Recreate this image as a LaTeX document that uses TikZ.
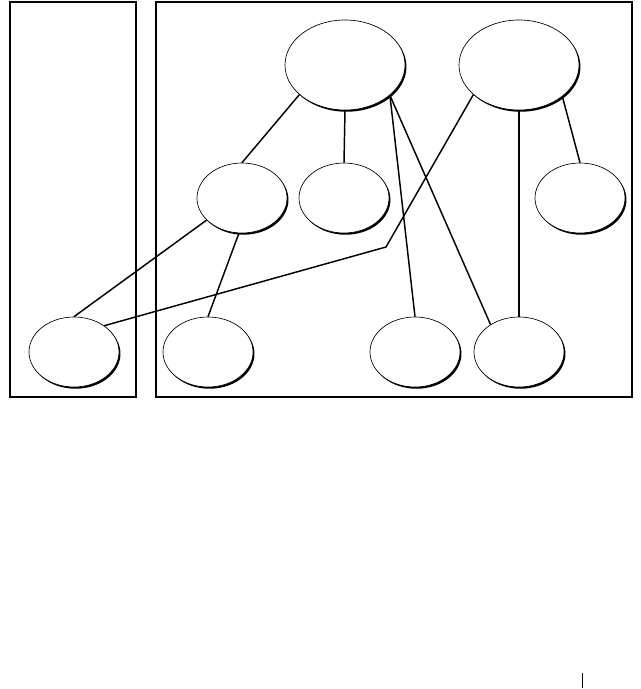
\documentclass[tikz,border=0pt]{standalone}
\usetikzlibrary{shapes.geometric, shadows}

\begin{document}
\begin{tikzpicture}[
			x=0.75pt, y=-0.75pt,
			frame/.style={line width=1.5pt},
			obj/.style={draw, ellipse, fill=white, line width=0.5pt, inner sep=0pt,
				minimum width=67.5pt, minimum height=52.5pt,
				drop shadow={shadow xshift=1.1pt, shadow yshift=-1.3pt, fill=black, opacity=1}},
			bigobj/.style={obj, minimum width=90pt, minimum height=67.5pt},
			link/.style={line width=1.1pt},
		]
		\useasboundingbox (0,0) rectangle (641,689);

		% Frames
		\draw[frame] (10,2) rectangle (136,397);
		\draw[frame] (156,2) rectangle (632,397);

		% Top row
		\node[bigobj] (topl) at (345,65) {};
		\node[bigobj] (topr) at (519,65) {};

		% Middle row
		\node[obj] (midl) at (242,198) {};
		\node[obj] (midc) at (344,198) {};
		\node[obj] (midr) at (580,198) {};

		% Bottom row
		\node[obj] (outer) at (74,352) {};
		\node[obj] (botl)  at (208,352) {};
		\node[obj] (botc)  at (415,352) {};
		\node[obj] (botr)  at (519,352) {};

		\coordinate (bend) at (386,247);

		% Links
		\draw[link] (topl.213) -- (midl.north);
		\draw[link] (topl.south) -- (midc.north);
		\draw[link] (topl.326) -- (botc.north);
		\draw[link] (topl.326) -- (botr.136);
		\draw[link] (topr.south) -- (botr.north);
		\draw[link] (topr.324) -- (midr.north);
		\draw[link] (topr.213) -- (bend) -- (outer.41);
		\draw[link] (midl.212) -- (outer.north);
		\draw[link] (midl.265) -- (botl.north);

		% Page mark
		\draw[line width=0.75pt] (582,673) -- (582,688);
	\end{tikzpicture}
\end{document}
